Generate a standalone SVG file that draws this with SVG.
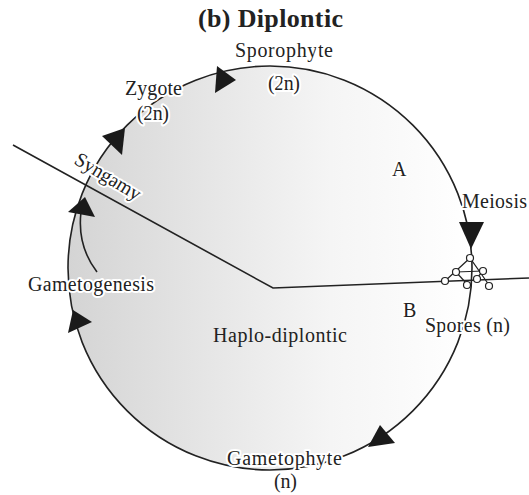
<svg xmlns="http://www.w3.org/2000/svg" width="529" height="495" viewBox="0 0 529 495">
<defs>
<linearGradient id="shade" x1="0" y1="0" x2="1" y2="0">
<stop offset="0" stop-color="#d4d4d4"/>
<stop offset="0.35" stop-color="#e6e6e6"/>
<stop offset="0.65" stop-color="#f5f5f5"/>
<stop offset="1" stop-color="#ffffff"/>
</linearGradient>
<style>
.t{font-family:"Liberation Serif","Times New Roman",serif;font-size:20px;fill:#222;stroke:#fff;stroke-width:4px;paint-order:stroke;stroke-linejoin:round}
.title{font-family:"Liberation Serif","Times New Roman",serif;font-size:26px;font-weight:bold;fill:#222}
.ln{fill:none;stroke:#222;stroke-width:1.6}
.ah{fill:#1a1a1a;stroke:none}
.sp{fill:#fff;stroke:#222;stroke-width:1.2}
.thin{fill:none;stroke:#222;stroke-width:1.2}
</style>
</defs>
<rect width="529" height="495" fill="#fff"/>
<circle cx="270" cy="268" r="202" fill="url(#shade)"/>
<g id="connectors">
<circle class="ln" cx="270" cy="268" r="202"/>
<polyline class="ln" points="13,145 273,288 529,278"/>
<path class="ln" d="M97,272 Q77,246 81,212"/>
<polygon class="ah" points="217,66 236,80 215,93"/>
<polygon class="ah" points="102,136 125,128 122,155"/>
<polygon class="ah" points="68,212 85,197 95,217"/>
<polygon class="ah" points="68,333 73,310 92,322"/>
<polygon class="ah" points="380,425 395,443 368,447"/>
<polygon class="ah" points="459,222 484,222 471,249"/>
</g>
<g id="spores">
<polyline class="thin" points="445,281 470,258 489,285"/>
<line class="thin" x1="456" y1="272" x2="483" y2="271"/>
<line class="thin" x1="456" y1="272" x2="467" y2="284"/>
<line class="thin" x1="483" y1="271" x2="476" y2="279"/>
<circle class="sp" cx="470" cy="258" r="3.5"/>
<circle class="sp" cx="456" cy="272" r="3.5"/>
<circle class="sp" cx="483" cy="271" r="3.5"/>
<circle class="sp" cx="445" cy="281" r="3.5"/>
<circle class="sp" cx="467" cy="285" r="3.5"/>
<circle class="sp" cx="477" cy="279" r="3.5"/>
<circle class="sp" cx="489" cy="286" r="3.5"/>
</g>
<g id="title"><text class="title" x="198" y="27" textLength="145">(b) Diplontic</text></g>
<g id="sporophyte"><text class="t" x="235" y="57" textLength="98">Sporophyte</text><text class="t" x="268" y="90" textLength="32">(2n)</text></g>
<g id="zygote"><text class="t" x="125" y="95" textLength="57">Zygote</text><text class="t" x="137" y="120" textLength="32">(2n)</text></g>
<g id="syngamy"><text class="t" transform="translate(73,163) rotate(31)" x="0" y="0" textLength="74">Syngamy</text></g>
<g id="gametogenesis"><text class="t" x="28" y="291" textLength="126">Gametogenesis</text></g>
<g id="labelA"><text class="t" x="392" y="176">A</text></g>
<g id="meiosis"><text class="t" x="462" y="208" textLength="65">Meiosis</text></g>
<g id="labelB"><text class="t" x="403" y="317">B</text></g>
<g id="spores-label"><text class="t" x="425" y="332" textLength="85">Spores (n)</text></g>
<g id="haplodiplontic"><text class="t" x="213" y="342" textLength="134" style="stroke:none">Haplo-diplontic</text></g>
<g id="gametophyte"><text class="t" x="227" y="465" textLength="115">Gametophyte</text><text class="t" x="274" y="488" textLength="23">(n)</text></g>
</svg>
